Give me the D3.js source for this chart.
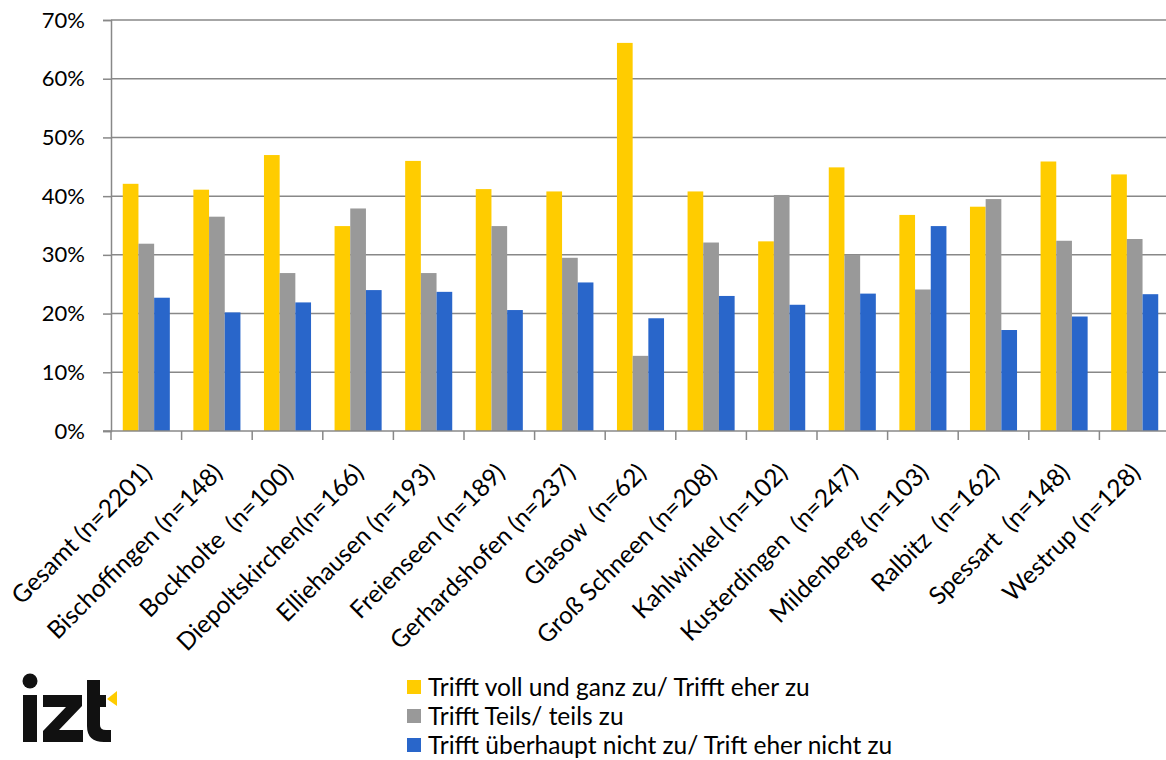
<!DOCTYPE html>
<html>
<head>
<meta charset="utf-8">
<script src="https://cdn.jsdelivr.net/npm/d3@7"></script>
<style>
  body { margin: 0; background: #fff; }
  svg text { font-family: Lato, "Open Sans", sans-serif; fill: #000; }
</style>
</head>
<body>
<div id="chart"></div>
<script>
// categories and series
const categories = [
  'Gesamt (n=2201)', 'Bischoffingen (n=148)', 'Bockholte  (n=100)', 'Diepoltskirchen(n=166)',
  'Elliehausen (n=193)', 'Freienseen (n=189)', 'Gerhardshofen (n=237)', 'Glasow  (n=62)',
  'Groß Schneen (n=208)', 'Kahlwinkel (n=102)', 'Kusterdingen  (n=247)', 'Mildenberg (n=103)',
  'Ralbitz  (n=162)', 'Spessart  (n=148)', 'Westrup (n=128)'
];
const seriesNames = [
  'Trifft voll und ganz zu/ Trifft eher zu',
  'Trifft Teils/ teils zu',
  'Trifft überhaupt nicht zu/ Trift eher nicht zu'
];
const agree    = [42.1, 41.1, 47.0, 34.9, 46.0, 41.2, 40.8, 66.1, 40.8, 32.3, 44.9, 36.8, 38.2, 45.9, 43.7];
const partly   = [31.9, 36.5, 26.9, 37.9, 26.9, 34.9, 29.5, 12.8, 32.1, 40.2, 30.0, 24.1, 39.5, 32.4, 32.7];
const disagree = [22.7, 20.2, 21.9, 24.0, 23.7, 20.6, 25.3, 19.2, 23.0, 21.5, 23.4, 34.9, 17.2, 19.5, 23.3];
const yTicks = [0, 10, 20, 30, 40, 50, 60, 70];
const colors = ['#FFCC00', '#999999', '#2966CA'];

const W = 1166, H = 760;
const plot = {left: 111, top: 20, bottom: 431, right: 1170};

const svg = d3.select('#chart').append('svg')
  .attr('width', W)
  .attr('height', H);

const x = d3.scaleBand()
  .domain(categories)
  .range([plot.left, plot.right]);

// excel style gap width 150% -> outer padding 0.75 of a bar
const xs = d3.scaleBand()
  .domain(d3.range(seriesNames.length))
  .range([0, x.bandwidth()])
  .paddingOuter(0.75);

const y = d3.scaleLinear()
  .domain([0, 70])
  .range([plot.bottom, plot.top]);

// gridlines
svg.append('g').attr('class', 'grid')
  .selectAll('line')
  .data(yTicks.filter(d => d > 0))
  .enter().append('line')
  .attr('x1', plot.left).attr('x2', plot.right)
  .attr('y1', d => y(d)).attr('y2', d => y(d))
  .style('stroke', '#888').style('stroke-width', 1.5);

// bars
const rows = categories.map((c, i) => ({cat: c, vals: [agree[i], partly[i], disagree[i]]}));
const groups = svg.append('g').attr('class', 'bars')
  .selectAll('g')
  .data(rows)
  .enter().append('g')
  .attr('transform', d => `translate(${x(d.cat)},0)`);

groups.selectAll('rect')
  .data(d => d.vals)
  .enter().append('rect')
  .attr('x', (v, i) => xs(i))
  .attr('width', xs.bandwidth())
  .attr('y', v => y(v))
  .attr('height', v => y(0) - y(v))
  .style('fill', (v, i) => colors[i]);

// y axis
const yAxis = d3.axisLeft(y)
  .tickValues(yTicks)
  .tickFormat(d => d + '%')
  .tickSize(8)
  .tickPadding(18);
const gy = svg.append('g')
  .attr('transform', `translate(${plot.left},0)`)
  .call(yAxis);
gy.select('.domain').style('stroke', '#888').style('stroke-width', 1.5);
gy.selectAll('.tick line').style('stroke', '#888').style('stroke-width', 1.5);
gy.selectAll('.tick text')
  .style('font-size', '22px')
  .style('font-family', 'Lato, sans-serif');

// x axis line + ticks at band edges
const gx = svg.append('g').attr('class', 'xaxis');
gx.append('line')
  .attr('x1', plot.left - 8).attr('x2', plot.right)
  .attr('y1', plot.bottom).attr('y2', plot.bottom)
  .style('stroke', '#888').style('stroke-width', 1.5);
gx.selectAll('line.tick')
  .data(categories)
  .enter().append('line')
  .attr('class', 'tick')
  .attr('x1', d => x(d)).attr('x2', d => x(d))
  .attr('y1', plot.bottom).attr('y2', plot.bottom + 9)
  .style('stroke', '#888').style('stroke-width', 1.5);

// rotated category labels, end of text just under the band centre
gx.selectAll('text')
  .data(categories)
  .enter().append('text')
  .attr('transform', d => `translate(${x(d) + x.bandwidth() / 2 + 1},${plot.bottom + 37}) rotate(-45)`)
  .attr('text-anchor', 'end')
  .attr('dy', '0.35em')
  .style('font-size', '24.5px')
  .style('white-space', 'pre')
  .text(d => d);

// legend
const legend = svg.append('g').attr('transform', 'translate(407,680)');
const li = legend.selectAll('g')
  .data(seriesNames)
  .enter().append('g')
  .attr('transform', (d, i) => `translate(0,${i * 29})`);
li.append('rect')
  .attr('width', 14).attr('height', 14)
  .style('fill', (d, i) => colors[i]);
li.append('text')
  .attr('x', 21).attr('y', 7)
  .attr('dy', '0.36em')
  .style('font-size', '24.5px')
  .text(d => d);

// izt logo
const logo = svg.append('g').attr('class', 'logo');
logo.append('circle').attr('cx', 30).attr('cy', 681).attr('r', 7.5).style('fill', '#111');
logo.append('rect').attr('x', 23).attr('y', 695).attr('width', 14).attr('height', 47).style('fill', '#111');
logo.append('path')
  .attr('d', 'M43,695 H82 V706 L59,730 H83 V742 H43 V731 L66,707 H43 Z')
  .style('fill', '#111');
logo.append('path')
  .attr('d', 'M87,680 H100 V695 H106 V707 H100 V725 Q100,730 106,730 H111 V742 H104 Q87,742 87,726 Z')
  .style('fill', '#111');
logo.append('path')
  .attr('d', 'M107,699 L117,691 V706 Z')
  .style('fill', '#FFCC00');
</script>
</body>
</html>
